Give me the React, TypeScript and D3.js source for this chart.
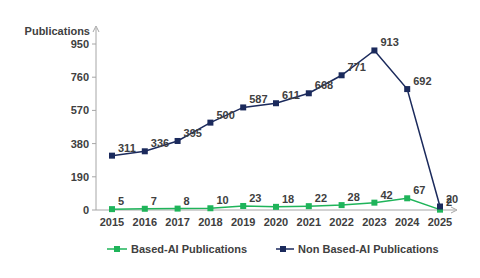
import React from "react";
import * as d3 from "d3";

const years = [2015, 2016, 2017, 2018, 2019, 2020, 2021, 2022, 2023, 2024, 2025];
const basedAI = [5, 7, 8, 10, 23, 18, 22, 28, 42, 67, 2];
const nonBasedAI = [311, 336, 395, 500, 587, 611, 668, 771, 913, 692, 20];
const yTicks = [0, 190, 380, 570, 760, 950];

const W = 480, H = 278;
const font = "'Liberation Sans', Arial, sans-serif";
const txt = "#404040";
const axisCol = "#a6a6a6";
const green = "#1fb45a";
const navy = "#1b2a5c";

export default function App() {
  const x = d3.scaleLinear().domain([2015, 2025]).range([112, 440]);
  const y = d3.scaleLinear().domain([0, 950]).range([210, 44]);
  const line = d3.line<number>().x((_, i) => x(years[i])).y((d) => y(d));
  const series = [
    { name: "Based-AI Publications", data: basedAI, color: green },
    { name: "Non Based-AI Publications", data: nonBasedAI, color: navy },
  ];
  return (
    <svg width={W} height={H} style={{ position: "absolute", left: 0, top: 0, background: "#fff" }}>
      <rect width={W} height={H} fill="#fff" />
      {/* axes */}
      <line x1={96} x2={96} y1={28} y2={210} stroke={axisCol} strokeWidth={1} />
      <path d="M93,32 L96,26 L99,32" fill="none" stroke={axisCol} />
      <line x1={96} x2={455} y1={210} y2={210} stroke={axisCol} strokeWidth={1} />
      <path d="M451,207 L457,210 L451,213" fill="none" stroke={axisCol} />
      {yTicks.map((t) => (
        <g key={t}>
          <line x1={92} x2={96} y1={y(t)} y2={y(t)} stroke={axisCol} />
          <text x={89} y={y(t) + 4} textAnchor="end" fontFamily={font} fontWeight="bold" fontSize={11} fill={txt}>{t}</text>
        </g>
      ))}
      <text x={90} y={35} textAnchor="end" fontFamily={font} fontWeight="bold" fontSize={11} fill={txt}>Publications</text>
      {years.map((yr) => (
        <text key={yr} x={x(yr)} y={226} textAnchor="middle" fontFamily={font} fontWeight="bold" fontSize={11} fill={txt}>{yr}</text>
      ))}
      {series.map((s) => (
        <g key={s.name}>
          <path d={line(s.data) || ""} fill="none" stroke={s.color} strokeWidth={1.5} />
          {s.data.map((v, i) => (
            <rect key={i} x={x(years[i]) - 3} y={y(v) - 3} width={6} height={6} fill={s.color} />
          ))}
          {s.data.map((v, i) => (
            <text key={"l" + i} x={x(years[i]) + 6} y={y(v) - 4} fontFamily={font} fontWeight="bold" fontSize={11} fill={txt}>{v}</text>
          ))}
        </g>
      ))}
      {/* legend */}
      <g>
        <line x1={107} x2={127} y1={249} y2={249} stroke={green} strokeWidth={1.5} />
        <rect x={114} y={246} width={6} height={6} fill={green} />
        <text x={131} y={253} fontFamily={font} fontWeight="bold" fontSize={11} fill={txt}>Based-AI Publications</text>
        <line x1={276} x2={294} y1={249} y2={249} stroke={navy} strokeWidth={1.5} />
        <rect x={280} y={246} width={6} height={6} fill={navy} />
        <text x={298} y={253} fontFamily={font} fontWeight="bold" fontSize={11} fill={txt}>Non Based-AI Publications</text>
      </g>
    </svg>
  );
}
